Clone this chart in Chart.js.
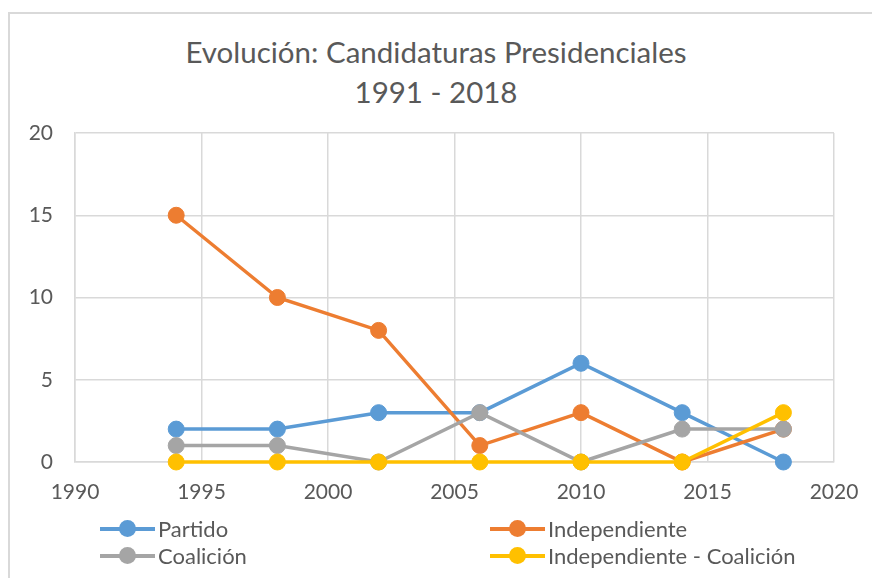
<!DOCTYPE html>
<html>
<head>
<meta charset="utf-8">
<script src="https://cdn.jsdelivr.net/npm/chart.js@4/dist/chart.umd.min.js"></script>
<style>
  body { margin: 0; background: #fff; font-family: Lato, 'Open Sans', sans-serif; }
  #wrap { position: relative; width: 872px; height: 578px; overflow: hidden; }
  #frame { position: absolute; left: 8px; top: 12px; right: -2px; bottom: -2px; border-left: 2px solid #d9d9d9; border-top: 2px solid #d9d9d9; }
  #title { position: absolute; left: 0; width: 872px; top: 32px; text-align: center; color: #595959; font-size: 29.5px; line-height: 40px; }
  #legend { position: absolute; left: 100px; top: 515px; width: 760px; display: grid; grid-template-columns: 390px 370px; row-gap: 0; }
  .item { display: flex; align-items: center; height: 27px; color: #595959; font-size: 22px; }
  .mark { position: relative; width: 55px; height: 27px; margin-right: 3px; }
  .mark .ln { position: absolute; left: 0; right: 0; top: 12px; height: 4px; }
  .mark .dot { position: absolute; left: 19px; top: 5px; width: 17px; height: 17px; border-radius: 50%; }
  canvas { position: absolute; left: 0; top: 0; }
</style>
</head>
<body>
<div id="wrap">
  <div id="frame"></div>
  <div id="title">Evolución: Candidaturas Presidenciales<br>1991 - 2018</div>
  <canvas id="chart" width="872" height="578"></canvas>
  <div id="legend"></div>
</div>
<script>
const years = [1994, 1998, 2002, 2006, 2010, 2014, 2018];
const partido = [2, 2, 3, 3, 6, 3, 0];
const independiente = [15, 10, 8, 1, 3, 0, 2];
const coalicion = [1, 1, 0, 3, 0, 2, 2];
const indepCoalicion = [0, 0, 0, 0, 0, 0, 3];

const seriesNames = ['Partido', 'Independiente', 'Coalición', 'Independiente - Coalición'];
const seriesValues = [partido, independiente, coalicion, indepCoalicion];
const seriesColors = ['#5B9BD5', '#ED7D31', '#A5A5A5', '#FFC000'];

const datasets = seriesNames.map((name, i) => ({
  label: name,
  data: years.map((yr, j) => ({ x: yr, y: seriesValues[i][j] })),
  borderColor: seriesColors[i],
  backgroundColor: seriesColors[i],
  pointBackgroundColor: seriesColors[i],
  pointBorderColor: seriesColors[i],
  borderWidth: 3.5,
  pointRadius: 8,
  pointBorderWidth: 1,
  tension: 0,
  clip: false,
  order: seriesNames.length - i
}));

const tickFont = { family: "Lato, 'Open Sans', sans-serif", size: 21 };

new Chart(document.getElementById('chart'), {
  type: 'line',
  data: { datasets },
  options: {
    responsive: false,
    animation: false,
    layout: { padding: { left: 10, right: 38, top: 133, bottom: 66 } },
    plugins: {
      legend: { display: false },
      title: { display: false },
      tooltip: { enabled: false }
    },
    scales: {
      x: {
        type: 'linear',
        min: 1990,
        max: 2020,
        ticks: { stepSize: 5, color: '#595959', font: tickFont, padding: 18, maxRotation: 0, callback: (v) => String(v) },
        grid: { color: '#d9d9d9', lineWidth: 1.5, drawTicks: false },
        border: { color: '#d9d9d9', width: 1.5 },
        afterFit: (s) => { s.height = 50; s.paddingLeft = 0; s.paddingRight = 0; }
      },
      y: {
        min: 0,
        max: 20,
        ticks: { stepSize: 5, color: '#595959', font: tickFont, padding: 22 },
        grid: { color: '#d9d9d9', lineWidth: 1.5, drawTicks: false },
        border: { color: '#d9d9d9', width: 1.5 },
        afterFit: (s) => { s.width = 65; s.paddingTop = 0; s.paddingBottom = 0; }
      }
    }
  }
});

// legend laid out in two columns like the original
const legend = document.getElementById('legend');
seriesNames.forEach((name, i) => {
  const item = document.createElement('div');
  item.className = 'item';
  item.innerHTML = `<span class="mark"><span class="ln" style="background:${seriesColors[i]}"></span>` +
    `<span class="dot" style="background:${seriesColors[i]}"></span></span><span>${name}</span>`;
  legend.appendChild(item);
});
</script>
</body>
</html>
